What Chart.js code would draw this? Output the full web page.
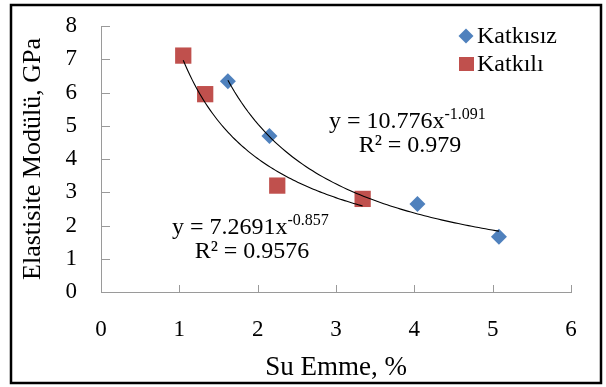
<!DOCTYPE html>
<html>
<head>
<meta charset="utf-8">
<script src="https://cdn.jsdelivr.net/npm/chart.js@4.4.0/dist/chart.umd.min.js"></script>
<style>
  html, body { margin: 0; padding: 0; background: #fff; }
  #wrap { position: relative; width: 606px; height: 387px; }
</style>
</head>
<body>
<div id="wrap"><canvas id="c" width="606" height="387"></canvas></div>
<script>
// ---- data ----
const seriesNames = ['Katkısız', 'Katkılı'];
const katkisizX = [1.62, 2.15, 4.04, 5.08];
const katkisizY = [6.34, 4.69, 2.65, 1.66];
const katkiliX = [1.05, 1.33, 2.25, 3.34];
const katkiliY = [7.11, 5.95, 3.20, 2.80];
// power trendlines y = a * x^b (coefficients as printed on the chart)
const trendA = [10.776, 7.2691];
const trendB = [-1.091, -0.857];
const trendR2 = ['0.979', '0.9576'];
const xTicks = [0, 1, 2, 3, 4, 5, 6];
const yTicks = [0, 1, 2, 3, 4, 5, 6, 7, 8];
const xTitle = 'Su Emme, %';
const yTitle = 'Elastisite Modülü, GPa';

const FONT = "'Liberation Serif', 'Times New Roman', serif";
const BLUE = '#4F81BD';
const RED = '#C0504D';
const AXIS = '#9a9a9a';

const toPts = (xs, ys) => xs.map((x, i) => ({ x: x, y: ys[i] }));
const trendDatasets = [katkisizX, katkiliX];

const overlay = {
  id: 'overlay',
  beforeDraw(chart) {
    const ctx = chart.ctx;
    ctx.save();
    ctx.fillStyle = '#fff';
    ctx.fillRect(0, 0, chart.width, chart.height);
    ctx.restore();
  },
  afterDraw(chart) {
    const ctx = chart.ctx;
    const xs = chart.scales.x, ys = chart.scales.y;
    ctx.save();
    // inside tick marks
    ctx.strokeStyle = AXIS;
    ctx.lineWidth = 1;
    xTicks.forEach(v => {
      const px = Math.round(xs.getPixelForValue(v)) + 0.5;
      const py = ys.getPixelForValue(0);
      ctx.beginPath(); ctx.moveTo(px, py); ctx.lineTo(px, py - 7); ctx.stroke();
    });
    yTicks.forEach(v => {
      const py = Math.round(ys.getPixelForValue(v)) + 0.5;
      const px = xs.getPixelForValue(0);
      ctx.beginPath(); ctx.moveTo(px, py); ctx.lineTo(px + 9, py); ctx.stroke();
    });
    // outer frame
    ctx.strokeStyle = '#000';
    ctx.lineWidth = 2.5;
    ctx.strokeRect(11, 5, 590, 378);
    ctx.restore();
  },
  afterDatasetsDraw(chart) {
    const ctx = chart.ctx;
    const xs = chart.scales.x, ys = chart.scales.y;
    ctx.save();
    // trendlines
    ctx.strokeStyle = '#000';
    ctx.lineWidth = 1.1;
    trendDatasets.forEach((xsArr, k) => {
      const x0 = Math.min(...xsArr), x1 = Math.max(...xsArr);
      ctx.beginPath();
      const n = 80;
      for (let i = 0; i <= n; i++) {
        const xv = x0 + (x1 - x0) * i / n;
        const yv = trendA[k] * Math.pow(xv, trendB[k]);
        const px = xs.getPixelForValue(xv), py = ys.getPixelForValue(yv);
        if (i === 0) ctx.moveTo(px, py); else ctx.lineTo(px, py);
      }
      ctx.stroke();
    });
    // equations
    ctx.fillStyle = '#000';
    ctx.textBaseline = 'middle';
    const drawEq = (a, b, r2, x, y, rcx, ry) => {
      ctx.font = '24px ' + FONT;
      ctx.textAlign = 'left';
      const main = 'y = ' + a + 'x';
      ctx.fillText(main, x, y);
      const w = ctx.measureText(main).width;
      ctx.font = '16px ' + FONT;
      ctx.fillText(String(b), x + w, y - 7);
      ctx.font = '24px ' + FONT;
      ctx.textAlign = 'center';
      ctx.fillText('R² = ' + r2, rcx, ry);
    };
    drawEq(trendA[0], trendB[0], trendR2[0], 329, 122, 410, 146);
    drawEq(trendA[1], trendB[1], trendR2[1], 172, 228, 252, 252);
    // legend
    ctx.fillStyle = BLUE;
    ctx.beginPath();
    ctx.moveTo(466, 36 - 7.5); ctx.lineTo(466 + 7.5, 36); ctx.lineTo(466, 36 + 7.5); ctx.lineTo(466 - 7.5, 36); ctx.closePath();
    ctx.fill();
    ctx.fillStyle = RED;
    ctx.fillRect(459, 57, 15, 14);
    ctx.fillStyle = '#000';
    ctx.font = '24px ' + FONT;
    ctx.textAlign = 'left';
    ctx.fillText(seriesNames[0], 477, 37);
    ctx.fillText(seriesNames[1], 477, 65);
    ctx.restore();
  }
};

function build() {
  new Chart(document.getElementById('c'), {
    type: 'scatter',
    data: {
      datasets: [
        { label: seriesNames[0], data: toPts(katkisizX, katkisizY), pointStyle: 'rectRot', pointRadius: 8, pointHoverRadius: 8,
          backgroundColor: BLUE, borderColor: BLUE, borderWidth: 0 },
        { label: seriesNames[1], data: toPts(katkiliX, katkiliY), pointStyle: 'rect', pointRadius: 11.5, pointHoverRadius: 11.5,
          backgroundColor: RED, borderColor: RED, borderWidth: 0 }
      ]
    },
    options: {
      responsive: false,
      animation: false,
      events: [],
      layout: { padding: { left: 14, right: 35, top: 26, bottom: 1 } },
      plugins: { legend: { display: false }, tooltip: { enabled: false } },
      scales: {
        x: {
          type: 'linear', min: 0, max: 6,
          afterBuildTicks: s => { s.ticks = xTicks.map(v => ({ value: v })); },
          afterFit: s => { s.height = 94; s.paddingLeft = 10; s.paddingRight = 10; },
          grid: { display: false, drawTicks: false },
          border: { display: true, color: AXIS, width: 1 },
          ticks: { padding: 24, color: '#000', font: { family: FONT, size: 23 }, maxRotation: 0 },
          title: { display: true, text: xTitle, color: '#000', font: { family: FONT, size: 27 }, padding: { top: 2, bottom: 2 } }
        },
        y: {
          type: 'linear', min: 0, max: 8,
          afterBuildTicks: s => { s.ticks = yTicks.map(v => ({ value: v })); },
          afterFit: s => { s.width = 87; s.paddingTop = 10; s.paddingBottom = 10; },
          grid: { display: false, drawTicks: false },
          border: { display: true, color: AXIS, width: 1 },
          ticks: { padding: 24, color: '#000', font: { family: FONT, size: 23 } },
          title: { display: true, text: yTitle, color: '#000', font: { family: FONT, size: 26 }, padding: { top: 4, bottom: 4 } }
        }
      }
    },
    plugins: [overlay]
  });
}

const fontLoads = [
  document.fonts.load('22px "Liberation Serif"'),
  document.fonts.load('24px "Liberation Serif"', 'Katkısız Modülü')
];
Promise.all(fontLoads).then(build, build);
</script>
</body>
</html>
